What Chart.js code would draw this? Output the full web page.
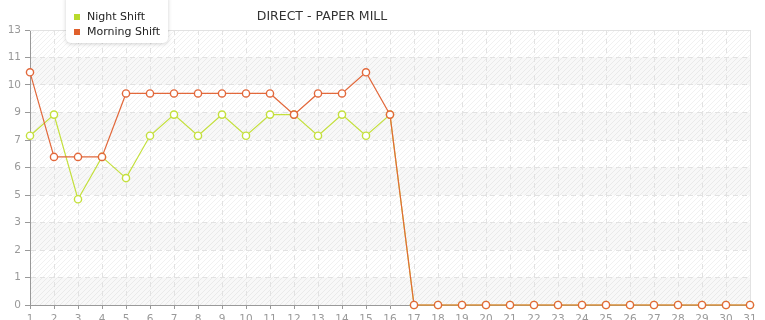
<!DOCTYPE html>
<html>
<head>
<meta charset="utf-8">
<script src="https://cdn.jsdelivr.net/npm/chart.js@4/dist/chart.umd.min.js"></script>
<style>
  html, body { margin: 0; padding: 0; background: #fff; }
  #chart { display: block; }
</style>
</head>
<body>
<canvas id="chart" width="765" height="320"></canvas>
<script>
const days = ['1','2','3','4','5','6','7','8','9','10','11','12','13','14','15','16',
              '17','18','19','20','21','22','23','24','25','26','27','28','29','30','31'];
const nightShift   = [8, 9, 5, 7, 6, 8, 9, 8, 9, 8, 9, 9, 8, 9, 8, 9,
                      0, 0, 0, 0, 0, 0, 0, 0, 0, 0, 0, 0, 0, 0, 0];
const morningShift = [11, 7, 7, 7, 10, 10, 10, 10, 10, 10, 10, 9, 10, 10, 11, 9,
                      0, 0, 0, 0, 0, 0, 0, 0, 0, 0, 0, 0, 0, 0, 0];
const yTickLabels = ['0', '1', '2', '3', '5', '6', '7', '9', '10', '11', '13'];

const chartTitle = 'DIRECT - PAPER MILL';
const nightColor = '#c4e03c';
const morningColor = '#e2683b';
const fontFamily = '"DejaVu Sans", Verdana, sans-serif';

// diagonal hatch used behind the plot
function makeHatch(ctx) {
    const c = document.createElement('canvas');
    c.width = 5; c.height = 5;
    const g = c.getContext('2d');
    g.strokeStyle = 'rgba(0,0,0,0.055)';
    g.lineWidth = 1;
    g.beginPath();
    g.moveTo(0, 5); g.lineTo(5, 0);
    g.moveTo(-1, 1); g.lineTo(1, -1);
    g.moveTo(4, 6); g.lineTo(6, 4);
    g.stroke();
    return ctx.createPattern(c, 'repeat');
}

const backdrop = {
    id: 'backdrop',
    beforeDraw(chart) {
        const ctx = chart.ctx;
        const a = chart.chartArea;
        const y = chart.scales.y;
        ctx.save();
        // alternating bands
        const ticks = y.ticks;
        for (let i = 0; i < ticks.length - 1; i++) {
            if (i % 2 === 0) {
                const top = y.getPixelForValue(ticks[i + 1].value);
                const bot = y.getPixelForValue(ticks[i].value);
                ctx.fillStyle = '#f8f8f8';
                ctx.fillRect(a.left, top, a.right - a.left, bot - top);
            }
        }
        ctx.fillStyle = makeHatch(ctx);
        ctx.fillRect(a.left, a.top, a.right - a.left, a.bottom - a.top);
        ctx.restore();
    },
    beforeDatasetsDraw(chart) {
        const ctx = chart.ctx;
        const a = chart.chartArea;
        ctx.save();
        ctx.strokeStyle = '#e2e2e2';
        ctx.lineWidth = 1;
        ctx.beginPath();
        ctx.moveTo(a.left, a.top + 0.5);
        ctx.lineTo(a.right + 0.5, a.top + 0.5);
        ctx.lineTo(a.right + 0.5, a.bottom);
        ctx.stroke();
        ctx.restore();
    },
    afterDraw(chart) {
        const ctx = chart.ctx;
        ctx.save();
        // title
        ctx.font = '12.5px ' + fontFamily;
        ctx.fillStyle = '#333';
        ctx.textAlign = 'center';
        ctx.textBaseline = 'middle';
        ctx.fillText(chartTitle, 322, 17);

        // legend box
        ctx.shadowColor = 'rgba(0,0,0,0.18)';
        ctx.shadowBlur = 4;
        ctx.shadowOffsetY = 1;
        ctx.fillStyle = '#fff';
        ctx.beginPath();
        ctx.roundRect(66, -6, 102, 49, 5);
        ctx.fill();
        ctx.shadowColor = 'transparent';

        const items = [
            { text: 'Night Shift', color: '#b8da2c' },
            { text: 'Morning Shift', color: '#e0602c' }
        ];
        ctx.font = '11px ' + fontFamily;
        ctx.textAlign = 'left';
        items.forEach((it, i) => {
            const yy = 17 + i * 15;
            ctx.fillStyle = it.color;
            ctx.fillRect(74, yy - 3, 6, 6);
            ctx.fillStyle = '#222';
            ctx.fillText(it.text, 87, yy);
        });
        ctx.restore();
    }
};

function setupChart() {
    const ctx = document.getElementById('chart').getContext('2d');
    new Chart(ctx, {
        type: 'line',
        data: {
            labels: days,
            datasets: [{
                label: 'Night Shift',
                data: nightShift,
                borderColor: nightColor,
                borderWidth: 1.2,
                pointRadius: 3.6,
                pointBorderWidth: 1.4,
                pointBackgroundColor: '#fff',
                pointBorderColor: nightColor,
                tension: 0,
                clip: false,
                order: 1
            }, {
                label: 'Morning Shift',
                data: morningShift,
                borderColor: morningColor,
                borderWidth: 1.2,
                pointRadius: 3.6,
                pointBorderWidth: 1.4,
                pointBackgroundColor: '#fff',
                pointBorderColor: morningColor,
                tension: 0,
                clip: false,
                order: 0
            }]
        },
        options: {
            responsive: false,
            animation: false,
            events: [],
            layout: { padding: { top: 30, right: 15, left: 0, bottom: 0 } },
            plugins: {
                legend: { display: false },
                title: { display: false },
                tooltip: { enabled: false }
            },
            scales: {
                x: {
                    offset: false,
                    afterFit: s => { s.height = 15; },
                    grid: {
                        color: '#e2e2e2',
                        tickColor: '#999',
                        tickLength: 4,
                        tickBorderDash: []
                    },
                    border: { color: '#999', dash: [5, 4] },
                    ticks: {
                        autoSkip: false,
                        maxRotation: 0,
                        padding: 4,
                        color: '#999',
                        font: { family: fontFamily, size: 10.5 }
                    }
                },
                y: {
                    min: 0,
                    max: 13,
                    afterFit: s => { s.width = 30; },
                    grid: {
                        color: '#e2e2e2',
                        tickColor: '#999',
                        tickLength: 5,
                        tickBorderDash: []
                    },
                    border: { color: '#999', dash: [5, 4] },
                    ticks: {
                        stepSize: 1.3,
                        padding: 4,
                        color: '#999',
                        font: { family: fontFamily, size: 10.5 },
                        callback: (v, i) => yTickLabels[i]
                    }
                }
            }
        },
        plugins: [backdrop]
    });
}

setupChart();
</script>
</body>
</html>
